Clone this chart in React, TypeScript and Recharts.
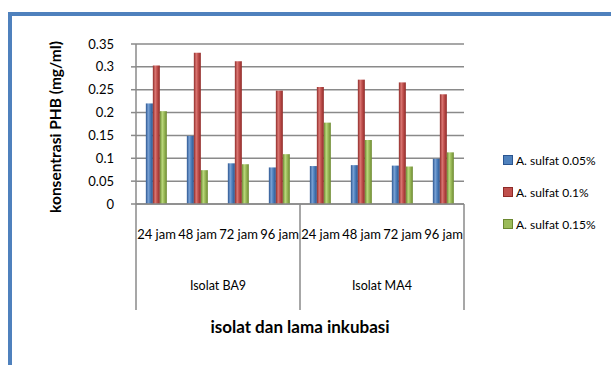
import React from 'react'
import { BarChart, Bar, XAxis, YAxis, CartesianGrid } from 'recharts'

// waktu inkubasi dan isolat
const times = ['24 jam', '48 jam', '72 jam', '96 jam']
const isolates = ['Isolat BA9', 'Isolat MA4']

// konsentrasi PHB (mg/ml) per seri, urut BA9 24..96 lalu MA4 24..96
const sulfat005 = [0.22, 0.149, 0.089, 0.08, 0.083, 0.085, 0.084, 0.099]
const sulfat01 = [0.303, 0.331, 0.312, 0.248, 0.256, 0.272, 0.266, 0.24]
const sulfat015 = [0.203, 0.074, 0.087, 0.109, 0.178, 0.14, 0.082, 0.113]

const yTicks = [0, 0.05, 0.1, 0.15, 0.2, 0.25, 0.3, 0.35]

const series = [
  { key: 's005', name: 'A. sulfat 0.05%', values: sulfat005, color: '#4F81BD', dark: '#2a5590', light: '#7aa1d4' },
  { key: 's01', name: 'A. sulfat 0.1%', values: sulfat01, color: '#C0504D', dark: '#8f2a28', light: '#da7773' },
  { key: 's015', name: 'A. sulfat 0.15%', values: sulfat015, color: '#9BBB59', dark: '#6b8830', light: '#bad87c' },
]

const data = isolates.flatMap((iso, i) =>
  times.map((t, j) => {
    const row: any = { time: t, group: iso }
    series.forEach(s => { row[s.key] = s.values[i * times.length + j] })
    return row
  })
)

// layout
const W = 611
const H = 365
const PLOT_LEFT = 136
const PLOT_RIGHT = 464
const PLOT_TOP = 44
const PLOT_BOTTOM = 204
const SEP_BOTTOM = 310
const TIME_AXIS_H = 52
const GROUP_HALF = (PLOT_RIGHT - PLOT_LEFT) / isolates.length / 2
const GRID = '#8a8a8a'
const FONT = 'Lato, "Open Sans", sans-serif'

function TimeTick({ x, payload }: any) {
  return (
    <text x={x} y={234} textAnchor="middle" dominantBaseline="central" fontSize={13} fill="#000">
      {payload.value}
    </text>
  )
}

function GroupTick({ x, payload, index }: any) {
  return (
    <g>
      <line x1={x - GROUP_HALF} x2={x - GROUP_HALF} y1={PLOT_BOTTOM} y2={SEP_BOTTOM} stroke={GRID} strokeWidth={1.5} />
      {index === isolates.length - 1 && (
        <line x1={x + GROUP_HALF} x2={x + GROUP_HALF} y1={PLOT_BOTTOM} y2={SEP_BOTTOM} stroke={GRID} strokeWidth={1.5} />
      )}
      <text x={x} y={285} textAnchor="middle" dominantBaseline="central" fontSize={12.5} fill="#000">
        {payload.value}
      </text>
    </g>
  )
}

function YTitle() {
  return (
    <text
      x={55}
      y={127}
      transform="rotate(-90 55 127)"
      textAnchor="middle"
      dominantBaseline="central"
      fontSize={15.5}
      fontWeight="bold"
      fill="#000"
    >
      konsentrasi PHB (mg/ml)
    </text>
  )
}

function XTitle() {
  return (
    <text x={300} y={326} textAnchor="middle" dominantBaseline="central" fontSize={17} fontWeight="bold" fill="#000">
      isolat dan lama inkubasi
    </text>
  )
}

export default function App() {
  return (
    <div style={{ position: 'absolute', left: 0, top: 0, width: W, height: H, overflow: 'hidden', background: '#fff', fontFamily: FONT }}>
      <div style={{ position: 'absolute', left: 8, top: 12, width: 700, height: 500, border: '4.5px solid #4F81BD', boxSizing: 'border-box' }} />
      <div style={{ position: 'absolute', left: 0, top: 0 }}>
        <BarChart
          width={W}
          height={H}
          data={data}
          margin={{ top: PLOT_TOP, right: W - PLOT_RIGHT, bottom: H - SEP_BOTTOM, left: 0 }}
          barGap={0}
          barCategoryGap="24%"
        >
          <defs>
            {series.map(s => (
              <linearGradient key={s.key} id={`g-${s.key}`} x1="0" y1="0" x2="1" y2="0">
                <stop offset="0%" stopColor={s.dark} />
                <stop offset="35%" stopColor={s.light} />
                <stop offset="60%" stopColor={s.color} />
                <stop offset="100%" stopColor={s.dark} />
              </linearGradient>
            ))}
          </defs>
          <CartesianGrid vertical={false} stroke={GRID} strokeWidth={1.5} />
          <XAxis
            dataKey="time"
            height={TIME_AXIS_H}
            axisLine={{ stroke: GRID, strokeWidth: 1.5 }}
            tickLine={false}
            tick={<TimeTick />}
            interval={0}
          />
          <XAxis
            xAxisId="grp"
            dataKey="group"
            allowDuplicatedCategory={false}
            height={SEP_BOTTOM - PLOT_BOTTOM - TIME_AXIS_H}
            axisLine={false}
            tickLine={false}
            tick={<GroupTick />}
            interval={0}
            label={<XTitle />}
          />
          <YAxis
            width={PLOT_LEFT}
            domain={[0, 0.35]}
            ticks={yTicks}
            interval={0}
            axisLine={{ stroke: GRID, strokeWidth: 1.5 }}
            tickLine={{ stroke: GRID, strokeWidth: 1.5 }}
            tickSize={5}
            tickMargin={17}
            tick={{ fill: '#000', fontSize: 13 }}
            tickFormatter={(v: number) => String(v)}
            label={<YTitle />}
          />
          {series.map(s => (
            <Bar key={s.key} dataKey={s.key} name={s.name} fill={`url(#g-${s.key})`} isAnimationActive={false} />
          ))}
        </BarChart>
      </div>
      {series.map((s, i) => (
        <div
          key={s.key}
          style={{ position: 'absolute', left: 503, top: 160 + i * 32 - 8, height: 16, display: 'flex', alignItems: 'center', fontSize: 12, color: '#000', whiteSpace: 'nowrap' }}
        >
          <span style={{ display: 'inline-block', width: 8, height: 8, marginRight: 3, background: s.color, border: `1px solid ${s.dark}` }} />
          {s.name}
        </div>
      ))}
    </div>
  )
}
